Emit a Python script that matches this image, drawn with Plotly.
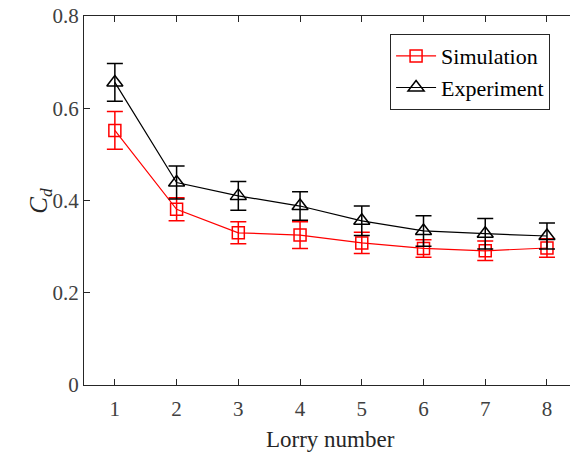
import plotly.graph_objects as go

lorry = [1, 2, 3, 4, 5, 6, 7, 8]
sim_cd = [0.552, 0.381, 0.330, 0.325, 0.308, 0.296, 0.291, 0.297]
sim_err = [0.041, 0.025, 0.024, 0.029, 0.023, 0.019, 0.021, 0.020]
exp_cd = [0.656, 0.439, 0.410, 0.388, 0.356, 0.334, 0.328, 0.323]
exp_err = [0.041, 0.036, 0.031, 0.031, 0.032, 0.033, 0.033, 0.028]
y_ticks = [0, 0.2, 0.4, 0.6, 0.8]
y_ticklabels = ["0", "0.2", "0.4", "0.6", "0.8"]

FONT = "Liberation Serif, Times New Roman, serif"
AX = "#262626"

fig = go.Figure()
fig.add_trace(go.Scatter(
    x=lorry, y=sim_cd, name="Simulation", mode="lines+markers",
    line=dict(color="#ff0000", width=1.2),
    marker=dict(symbol="square-open", size=12, color="#ff0000", line=dict(width=1.5)),
    error_y=dict(type="data", array=sim_err, visible=True, color="#ff0000", thickness=1.5, width=8),
))
fig.add_trace(go.Scatter(
    x=lorry, y=exp_cd, name="Experiment", mode="lines+markers",
    line=dict(color="#000000", width=1.2),
    marker=dict(symbol="triangle-up-open", size=14, color="#000000", line=dict(width=1.5)),
    error_y=dict(type="data", array=exp_err, visible=True, color="#000000", thickness=1.5, width=8),
))

fig.update_layout(
    width=570, height=452,
    margin=dict(l=84, r=0, t=16, b=67),
    paper_bgcolor="white", plot_bgcolor="white",
    font=dict(family=FONT, size=21, color="#404040"),
    showlegend=True,
    legend=dict(
        x=0.959, y=0.951, xanchor="right", yanchor="top",
        bgcolor="white", bordercolor=AX, borderwidth=1,
        font=dict(family=FONT, size=22, color="#000000"),
        tracegroupgap=0, itemwidth=40,
    ),
    xaxis=dict(
        range=[0.5, 8.373], tickvals=lorry, ticktext=[str(v) for v in lorry],
        showline=True, linecolor=AX, linewidth=1, mirror="ticks",
        ticks="inside", ticklen=6, tickcolor=AX, showgrid=False, zeroline=False,
        ticklabelstandoff=5,
        tickfont=dict(family=FONT, size=21, color="#404040"),
    ),
    yaxis=dict(
        range=[0, 0.8], tickvals=y_ticks, ticktext=y_ticklabels,
        showline=True, linecolor=AX, linewidth=1, mirror=False,
        ticks="inside", ticklen=6, tickcolor=AX, showgrid=False, zeroline=False,
        tickfont=dict(family=FONT, size=21, color="#404040"),
    ),
    annotations=[
        dict(text="Lorry number", x=4.5, xref="x", y=-0.108, yref="paper",
             xanchor="center", yanchor="top", showarrow=False,
             font=dict(family=FONT, size=23, color="#262626")),
        dict(text="<i>C<sub>d</sub></i>", x=-0.09, xref="paper", y=0.5, yref="paper",
             xanchor="center", yanchor="middle", showarrow=False, textangle=-90,
             font=dict(family=FONT, size=25, color="#262626")),
    ],
)

fig.write_html("out.html")
